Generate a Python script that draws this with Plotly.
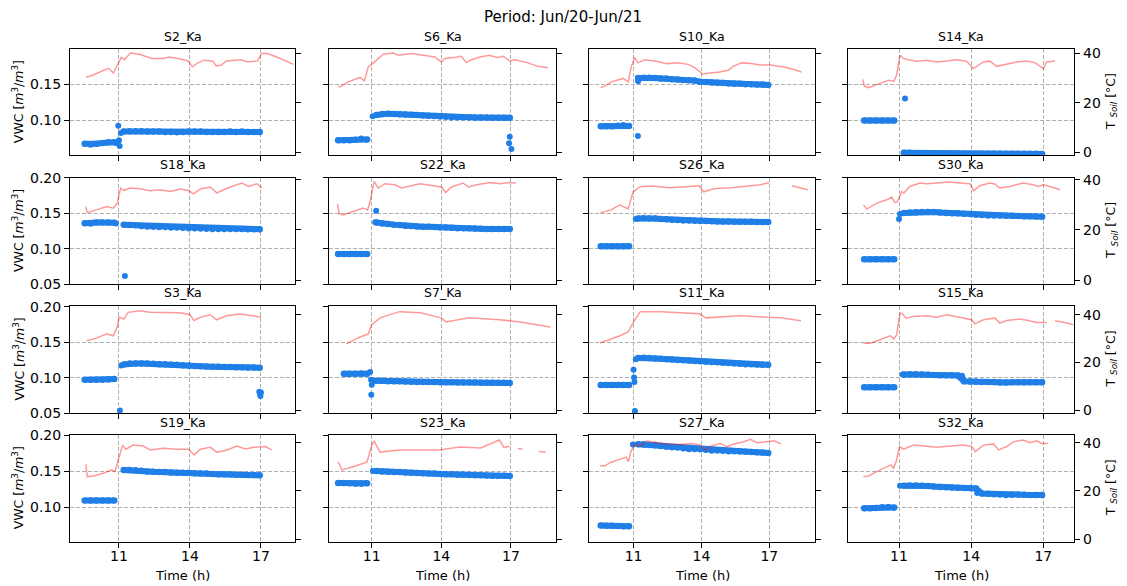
import plotly.graph_objects as go

# ---------------- data ----------------
SUPTITLE = "Period: Jun/20-Jun/21"
SENSORS = ["S2_Ka", "S6_Ka", "S10_Ka", "S14_Ka",
           "S18_Ka", "S22_Ka", "S26_Ka", "S30_Ka",
           "S3_Ka", "S7_Ka", "S11_Ka", "S15_Ka",
           "S19_Ka", "S23_Ka", "S27_Ka", "S32_Ka"]
X_TICKS = [11, 14, 17]
TEMP_TICKS = [0, 20, 40]

# sampling times (h) of the VWC readings before / after the 11 h event
T_PRE = [9.55, 9.8, 10.05, 10.3, 10.55, 10.8]
T_POST = [11.2, 11.45, 11.7, 11.95, 12.2, 12.45, 12.7, 12.95, 13.2, 13.45, 13.7, 13.95,
          14.2, 14.45, 14.7, 14.95, 15.2, 15.45, 15.7, 15.95, 16.2, 16.45, 16.7, 16.95]

S2_PRE = [0.067, 0.066, 0.067, 0.068, 0.069, 0.069]
S2_POST = [0.084, 0.0845, 0.0845, 0.0845, 0.084, 0.084, 0.084, 0.0835, 0.0835, 0.083, 0.0835, 0.084,
           0.084, 0.084, 0.0835, 0.0835, 0.0835, 0.0835, 0.084, 0.0835, 0.084, 0.0835, 0.0835, 0.0835]
S2_EXTRA_T = [10.88, 10.97, 11.0, 11.03, 11.08]
S2_EXTRA_V = [0.068, 0.092, 0.072, 0.064, 0.082]
S2_TEMP_T = [9.61, 9.77, 9.98, 10.33, 10.55, 10.76, 10.99, 11.1, 11.24, 11.48, 11.87, 12.23, 12.37, 12.86,
             13.14, 13.64, 13.92, 14.1, 14.34, 14.6, 14.97, 15.11, 15.32, 15.53, 15.8, 16.16, 16.44, 16.86,
             17.03, 17.28, 17.71, 18.06, 18.38]
S2_TEMP_V = [30.4, 30.7, 31.5, 32.9, 33.9, 32.0, 36.5, 38.3, 37.4, 40.1, 39.6, 38.5, 37.9, 37.9,
             38.5, 37.6, 36.9, 34.5, 36.1, 37.2, 36.8, 34.9, 35.1, 36.9, 37.2, 37.4, 36.5, 36.9,
             39.9, 39.9, 38.3, 36.9, 35.5]

S6_PRE = [0.072, 0.072, 0.072, 0.0725, 0.074, 0.073]
S6_POST = [0.107, 0.1085, 0.109, 0.1085, 0.108, 0.1078, 0.1075, 0.107, 0.1065, 0.106, 0.1056, 0.105,
           0.1045, 0.104, 0.104, 0.104, 0.1038, 0.1036, 0.1035, 0.1035, 0.1033, 0.1033, 0.1033, 0.1033]
S6_EXTRA_T = [11.04, 16.92, 16.95, 17.02]
S6_EXTRA_V = [0.1055, 0.0676, 0.0768, 0.0597]
S6_TEMP_T = [9.56, 9.63, 9.99, 10.49, 10.68, 10.85, 11.07, 11.28, 11.5, 11.93, 12.14, 12.72, 13.29, 13.72,
             14.0, 14.15, 14.58, 14.86, 15.08, 15.3, 15.66, 16.09, 16.38, 16.67, 16.95, 17.17, 17.74, 18.17, 18.6]
S6_TEMP_V = [26.8, 26.4, 28.4, 30.2, 28.8, 34.5, 36.1, 37.9, 39.6, 40.1, 39.2, 39.9, 39.2, 38.5,
             36.5, 37.9, 38.3, 38.8, 36.2, 37.4, 38.5, 39.2, 38.3, 38.8, 36.9, 37.4, 36.1, 34.7, 34.1]

S10_PRE = [0.0915, 0.0915, 0.0915, 0.092, 0.093, 0.0918]
S10_POST = [0.1585, 0.159, 0.159, 0.1585, 0.158, 0.1578, 0.157, 0.1565, 0.156, 0.1555, 0.155, 0.1535,
            0.153, 0.1525, 0.152, 0.1515, 0.151, 0.1505, 0.1505, 0.150, 0.150, 0.1495, 0.1495, 0.149]
S10_EXTRA_T = [11.19, 11.2]
S10_EXTRA_V = [0.0778, 0.1542]
S10_TEMP_T = [9.54, 9.73, 10.02, 10.54, 10.76, 10.9, 11.05, 11.2, 11.49, 12.01, 12.45, 12.97, 13.41,
              13.7, 14.07, 14.37, 14.81, 15.18, 15.4, 15.77, 16.21, 16.58, 17.02, 17.61, 18.05, 18.42]
S10_TEMP_V = [26.1, 26.7, 28.4, 29.8, 28.4, 34.5, 38.3, 36.1, 37.4, 36.8, 35.8, 36.2, 35.5,
              34.2, 31.5, 32.0, 32.4, 33.1, 34.7, 36.1, 35.8, 35.2, 35.2, 34.5, 33.5, 32.4]

S14_PRE = [0.0995, 0.0995, 0.0995, 0.0995, 0.0995, 0.0995]
S14_POST = [0.0545, 0.0545, 0.054, 0.054, 0.0538, 0.0535, 0.0535, 0.0535, 0.0535, 0.0535, 0.0533, 0.0533,
            0.0533, 0.053, 0.053, 0.053, 0.053, 0.053, 0.053, 0.053, 0.053, 0.053, 0.053, 0.0528]
S14_EXTRA_T = [11.25]
S14_EXTRA_V = [0.130]
S14_TEMP_T = [9.49, 9.56, 9.73, 10.15, 10.56, 10.79, 10.9, 11.04, 11.18, 11.39, 11.73, 12.15, 12.56, 12.98,
              13.4, 13.81, 14.09, 14.51, 14.78, 15.06, 15.48, 15.9, 16.31, 16.66, 17.0, 17.14, 17.49]
S14_TEMP_V = [29.4, 26.7, 26.1, 27.5, 29.1, 28.7, 31.1, 39.2, 37.9, 37.4, 36.8, 37.2, 36.5, 36.9,
              37.4, 36.8, 33.8, 36.5, 36.8, 34.7, 35.5, 36.5, 36.9, 36.1, 33.8, 36.5, 36.9]

S18_PRE = [0.136, 0.1355, 0.137, 0.137, 0.137, 0.1365]
S18_POST = [0.1338, 0.1335, 0.133, 0.132, 0.1315, 0.131, 0.1308, 0.1305, 0.130, 0.130, 0.1295, 0.129,
            0.1288, 0.1285, 0.1283, 0.128, 0.128, 0.128, 0.128, 0.128, 0.1278, 0.1275, 0.1275, 0.1275]
S18_EXTRA_T = [10.87, 11.25]
S18_EXTRA_V = [0.1355, 0.0613]
S18_TEMP_T = [9.59, 9.66, 9.91, 10.48, 10.76, 10.93, 11.07, 11.21, 11.47, 11.89, 12.31, 12.74, 13.16,
              13.59, 13.94, 14.15, 14.44, 14.86, 15.14, 15.42, 15.85, 16.2, 16.48, 16.83, 17.05]
S18_TEMP_V = [29.3, 26.9, 27.6, 29.3, 28.7, 30.7, 36.7, 35.7, 36.7, 36.4, 35.6, 36.0, 35.3,
              36.3, 35.7, 34.4, 36.3, 37.1, 34.7, 36.0, 37.6, 38.7, 37.3, 38.4, 36.7]

S22_PRE = [0.0925, 0.0925, 0.0925, 0.0925, 0.0925, 0.0925]
S22_POST = [0.137, 0.1355, 0.135, 0.134, 0.1335, 0.1325, 0.132, 0.1315, 0.131, 0.131, 0.1305, 0.130,
            0.1298, 0.1295, 0.129, 0.129, 0.1288, 0.1285, 0.1283, 0.128, 0.128, 0.128, 0.128, 0.128]
S22_EXTRA_T = [11.15, 11.19]
S22_EXTRA_V = [0.1375, 0.1537]
S22_TEMP_T = [9.52, 9.6, 9.77, 10.2, 10.63, 10.82, 10.95, 11.1, 11.28, 11.57, 12.0, 12.29, 12.65,
              13.08, 13.65, 14.01, 14.18, 14.44, 14.94, 15.16, 15.52, 16.1, 16.53, 16.89, 17.22]
S22_TEMP_V = [30.4, 26.4, 26.0, 27.3, 28.7, 28.0, 32.0, 39.3, 36.7, 38.4, 38.0, 36.7, 37.6,
              38.4, 37.6, 37.1, 34.9, 37.1, 38.7, 37.1, 38.0, 38.9, 38.4, 38.9, 38.7]

S26_PRE = [0.1035, 0.1035, 0.1035, 0.1035, 0.1035, 0.1035]
S26_POST = [0.1425, 0.143, 0.1428, 0.1425, 0.142, 0.1415, 0.141, 0.1405, 0.140, 0.140, 0.1395, 0.139,
            0.139, 0.1388, 0.1385, 0.1385, 0.1383, 0.138, 0.138, 0.138, 0.138, 0.1378, 0.1378, 0.1378]
S26_EXTRA_T = [11.1]
S26_EXTRA_V = [0.142]
S26_TEMP_T = [9.52, 10.0, 10.4, 10.76, 10.98, 11.29, 11.8, 12.6, 13.3, 13.9, 14.1, 14.6, 15.3, 16.0,
              16.6, 17.0, 17.3, 18.0, 18.7]
S26_TEMP_V = [26.8, 28.0, 30.0, 28.4, 35.2, 37.2, 37.5, 36.8, 37.2, 37.6, 35.2, 36.5, 36.8, 37.5,
              38.0, 38.8, None, 37.6, 36.0]

S30_PRE = [0.085, 0.085, 0.085, 0.085, 0.085, 0.085]
S30_POST = [0.1505, 0.151, 0.1515, 0.152, 0.152, 0.1518, 0.151, 0.1505, 0.150, 0.150, 0.1495, 0.149,
            0.148, 0.1475, 0.147, 0.147, 0.1468, 0.1465, 0.1465, 0.1462, 0.146, 0.146, 0.1455, 0.1452]
S30_EXTRA_T = [11.0, 11.04]
S30_EXTRA_V = [0.142, 0.149]
S30_TEMP_T = [9.52, 9.66, 10.07, 10.49, 10.7, 10.83, 10.93, 11.11, 11.2, 11.45, 11.87, 12.14, 12.56, 13.04,
              13.53, 13.94, 14.11, 14.36, 14.77, 14.98, 15.19, 15.61, 16.16, 16.58, 16.79, 17.0, 17.28, 17.7]
S30_TEMP_V = [30.0, 28.3, 30.7, 32.0, 33.1, 30.9, 31.3, 35.3, 34.7, 37.3, 38.7, 38.4, 38.7, 39.1,
              38.7, 38.4, 35.7, 37.6, 38.7, 38.3, 36.7, 37.3, 38.7, 38.0, 37.3, 38.0, 37.3, 36.0]

S3_PRE = [0.097, 0.097, 0.097, 0.097, 0.0975, 0.098]
S3_POST = [0.1185, 0.1198, 0.120, 0.120, 0.1198, 0.1195, 0.119, 0.119, 0.1185, 0.118, 0.1175, 0.117,
           0.1165, 0.116, 0.1158, 0.1155, 0.1152, 0.115, 0.1148, 0.1145, 0.1145, 0.1143, 0.1142, 0.114]
S3_EXTRA_T = [11.04, 11.1, 16.93, 16.96, 16.98, 17.0]
S3_EXTRA_V = [0.0537, 0.117, 0.080, 0.077, 0.074, 0.079]
S3_TEMP_T = [9.63, 10.05, 10.48, 10.76, 10.93, 11.01, 11.21, 11.39, 11.89, 12.31, 13.02, 13.65, 14.0,
             14.17, 14.42, 14.85, 15.13, 15.55, 16.11, 16.54, 17.03]
S3_TEMP_V = [29.1, 30.2, 32.0, 31.2, 35.1, 39.0, 38.2, 41.0, 41.7, 41.1, 41.0, 40.7, 40.0,
             37.6, 38.9, 40.0, 37.9, 39.6, 40.3, 39.6, 39.0]

S7_PRE = [None, 0.1053, 0.1055, 0.1055, 0.1057, 0.1053]
S7_POST = [0.0955, 0.0955, 0.095, 0.095, 0.0948, 0.0945, 0.0943, 0.094, 0.094, 0.0938, 0.0937, 0.0935,
           0.0935, 0.0933, 0.0932, 0.093, 0.093, 0.093, 0.0928, 0.0928, 0.0927, 0.0927, 0.0927, 0.0925]
S7_EXTRA_T = [9.87, 10.93, 10.97, 11.0, 10.98, 11.1]
S7_EXTRA_V = [0.105, 0.108, 0.097, 0.090, 0.076, 0.0955]
S7_TEMP_T = [9.9, 10.5, 10.85, 11.0, 11.36, 12.2, 13.1, 14.0, 14.2, 15.2, 16.5, 17.4, 18.7]
S7_TEMP_V = [27.8, 30.7, 32.0, 35.8, 38.7, 41.3, 40.8, 38.7, 37.0, 38.7, 37.9, 37.0, 34.9]

S11_PRE = [0.0895, 0.0895, 0.0895, 0.0895, 0.0895, 0.0895]
S11_POST = [0.1275, 0.128, 0.1275, 0.127, 0.1265, 0.126, 0.1255, 0.125, 0.1245, 0.124, 0.1235, 0.123,
            0.1225, 0.122, 0.1215, 0.121, 0.1205, 0.120, 0.1195, 0.119, 0.1188, 0.1185, 0.1183, 0.118]
S11_EXTRA_T = [11.0, 11.02, 11.04, 11.06, 11.1]
S11_EXTRA_V = [0.111, 0.100, 0.094, 0.053, 0.126]
S11_TEMP_T = [9.52, 10.4, 10.76, 11.0, 11.3, 12.2, 13.9, 14.2, 15.7, 17.5, 18.4]
S11_TEMP_V = [28.2, 31.2, 32.8, 37.0, 41.3, 41.3, 40.4, 38.7, 39.6, 38.7, 37.5]

S15_PRE = [0.0866, 0.0866, 0.0866, 0.0866, 0.0866, 0.0866]
S15_POST = [0.1045, 0.1048, 0.1047, 0.1045, 0.104, 0.1038, 0.1035, 0.1035, 0.1033, 0.103, 0.095, 0.0945,
            0.0943, 0.094, 0.094, 0.0937, 0.093, 0.093, 0.0933, 0.0935, 0.0935, 0.0935, 0.0935, 0.0935]
S15_EXTRA_T = [11.15, 13.62, 13.67]
S15_EXTRA_V = [0.1045, 0.1025, 0.098]
S15_TEMP_T = [9.52, 9.8, 10.21, 10.63, 10.79, 10.9, 11.04, 11.15, 11.29, 11.6, 12.15, 12.56, 12.98, 13.53,
              14.02, 14.15, 14.51, 14.99, 15.19, 15.48, 16.03, 16.37, 16.72, 17.14, 17.3, 17.49, 17.83, 18.25]
S15_TEMP_V = [28.1, 28.1, 29.5, 31.2, 29.9, 31.6, 40.7, 40.4, 38.6, 39.3, 39.6, 39.0, 40.0, 39.0,
              37.9, 36.2, 37.9, 38.6, 36.5, 37.6, 38.2, 37.6, 36.8, 36.8, None, 37.5, 36.9, 35.8]

S19_PRE = [0.1096, 0.1096, 0.1096, 0.1096, 0.1096, 0.1096]
S19_POST = [0.152, 0.152, 0.1515, 0.151, 0.150, 0.1495, 0.149, 0.149, 0.1485, 0.148, 0.148, 0.148,
            0.1475, 0.147, 0.147, 0.1465, 0.1462, 0.146, 0.146, 0.1455, 0.1455, 0.145, 0.145, 0.1445]
S19_EXTRA_T = []
S19_EXTRA_V = []
S19_TEMP_T = [9.6, 9.66, 9.91, 10.34, 10.69, 10.83, 11.01, 11.15, 11.29, 11.6, 12.03, 12.31, 12.88,
              13.44, 13.94, 14.18, 14.44, 14.86, 15.14, 15.56, 15.99, 16.34, 16.69, 17.18, 17.46]
S19_TEMP_V = [31.0, 25.9, 26.2, 27.3, 28.7, 28.0, 34.2, 39.0, 37.3, 39.0, 38.6, 37.0, 37.7,
              37.3, 37.3, 34.9, 37.3, 38.1, 36.0, 37.0, 38.6, 37.4, 38.1, 38.4, 37.0]

S23_PRE = [0.134, 0.1338, 0.1335, 0.133, 0.1328, 0.1335]
S23_POST = [0.1505, 0.150, 0.1495, 0.149, 0.149, 0.1485, 0.148, 0.1478, 0.1475, 0.147, 0.147, 0.1465,
            0.146, 0.146, 0.1455, 0.1452, 0.145, 0.1448, 0.1445, 0.1443, 0.144, 0.144, 0.1438, 0.1435]
S23_EXTRA_T = [11.05]
S23_EXTRA_V = [0.1505]
S23_TEMP_T = [9.55, 9.72, 10.3, 10.8, 11.0, 11.1, 11.36, 12.2, 13.9, 14.8, 15.7, 16.5, 16.7, 16.95,
              17.1, 17.3, 17.5, 18.0, 18.2, 18.5, 18.65]
S23_TEMP_V = [32.0, 28.7, 30.3, 32.0, 39.0, 40.7, 36.1, 37.0, 37.0, 38.2, 37.8, 41.1, 38.0, 38.5,
              None, 37.6, 37.4, None, 36.4, 36.1, None]

S27_PRE = [0.0752, 0.075, 0.0748, 0.0745, 0.0742, 0.074]
S27_POST = [0.1875, 0.187, 0.1865, 0.186, 0.185, 0.184, 0.1835, 0.183, 0.182, 0.181, 0.1808, 0.1805,
            0.1798, 0.179, 0.1788, 0.1785, 0.178, 0.178, 0.1775, 0.177, 0.1768, 0.1765, 0.176, 0.1755]
S27_EXTRA_T = [10.97]
S27_EXTRA_V = [0.187]
S27_TEMP_T = [9.52, 9.74, 9.96, 10.41, 10.67, 10.77, 10.88, 11.07, 11.29, 11.59, 12.03, 12.47, 13.06,
              13.58, 13.95, 14.17, 14.39, 14.84, 15.13, 15.43, 15.87, 16.16, 16.46, 16.9, 17.2, 17.52]
S27_TEMP_V = [30.4, 30.4, 31.7, 33.1, 34.0, 32.1, 36.3, 39.5, 38.6, 40.7, 40.0, 39.5, 39.3,
              39.7, 39.0, 37.0, 38.6, 39.7, 38.3, 39.5, 40.4, 41.4, 40.0, 40.4, 40.8, 39.5]

S32_PRE = [0.0992, 0.0992, 0.0995, 0.1003, 0.1006, 0.1000]
S32_POST = [0.1303, 0.1305, 0.1305, 0.130, 0.1298, 0.129, 0.1285, 0.128, 0.1278, 0.1275, 0.1272, 0.127,
            0.1265, 0.1195, 0.119, 0.1185, 0.118, 0.1175, 0.1178, 0.118, 0.1178, 0.1175, 0.1175, 0.1175]
S32_EXTRA_T = [11.04, 14.25]
S32_EXTRA_V = [0.130, 0.120]
S32_TEMP_T = [9.52, 9.73, 10.07, 10.49, 10.66, 10.77, 10.88, 11.02, 11.19, 11.6, 12.16, 12.57, 13.13,
              13.68, 14.03, 14.17, 14.51, 14.93, 15.14, 15.48, 15.76, 16.17, 16.45, 16.73, 16.93, 17.2]
S32_TEMP_V = [25.9, 26.2, 28.0, 29.8, 30.8, 29.4, 32.1, 38.4, 37.3, 39.0, 38.6, 38.1, 38.6,
              39.0, 38.4, 36.3, 39.0, 39.5, 37.0, 38.4, 40.4, 41.1, 40.0, 40.8, 39.7, 39.7]

DATA = {
    "S2_Ka": (S2_PRE, S2_POST, S2_EXTRA_T, S2_EXTRA_V, S2_TEMP_T, S2_TEMP_V),
    "S6_Ka": (S6_PRE, S6_POST, S6_EXTRA_T, S6_EXTRA_V, S6_TEMP_T, S6_TEMP_V),
    "S10_Ka": (S10_PRE, S10_POST, S10_EXTRA_T, S10_EXTRA_V, S10_TEMP_T, S10_TEMP_V),
    "S14_Ka": (S14_PRE, S14_POST, S14_EXTRA_T, S14_EXTRA_V, S14_TEMP_T, S14_TEMP_V),
    "S18_Ka": (S18_PRE, S18_POST, S18_EXTRA_T, S18_EXTRA_V, S18_TEMP_T, S18_TEMP_V),
    "S22_Ka": (S22_PRE, S22_POST, S22_EXTRA_T, S22_EXTRA_V, S22_TEMP_T, S22_TEMP_V),
    "S26_Ka": (S26_PRE, S26_POST, S26_EXTRA_T, S26_EXTRA_V, S26_TEMP_T, S26_TEMP_V),
    "S30_Ka": (S30_PRE, S30_POST, S30_EXTRA_T, S30_EXTRA_V, S30_TEMP_T, S30_TEMP_V),
    "S3_Ka": (S3_PRE, S3_POST, S3_EXTRA_T, S3_EXTRA_V, S3_TEMP_T, S3_TEMP_V),
    "S7_Ka": (S7_PRE, S7_POST, S7_EXTRA_T, S7_EXTRA_V, S7_TEMP_T, S7_TEMP_V),
    "S11_Ka": (S11_PRE, S11_POST, S11_EXTRA_T, S11_EXTRA_V, S11_TEMP_T, S11_TEMP_V),
    "S15_Ka": (S15_PRE, S15_POST, S15_EXTRA_T, S15_EXTRA_V, S15_TEMP_T, S15_TEMP_V),
    "S19_Ka": (S19_PRE, S19_POST, S19_EXTRA_T, S19_EXTRA_V, S19_TEMP_T, S19_TEMP_V),
    "S23_Ka": (S23_PRE, S23_POST, S23_EXTRA_T, S23_EXTRA_V, S23_TEMP_T, S23_TEMP_V),
    "S27_Ka": (S27_PRE, S27_POST, S27_EXTRA_T, S27_EXTRA_V, S27_TEMP_T, S27_TEMP_V),
    "S32_Ka": (S32_PRE, S32_POST, S32_EXTRA_T, S32_EXTRA_V, S32_TEMP_T, S32_TEMP_V),
}

# ---------------- layout config ----------------
W, H = 1127, 586
COL_PX = [(70, 295), (329.3, 555.7), (589, 815), (848.3, 1074.3)]
ROW_PX = [(49.3, 155), (177.7, 284.3), (305.7, 413.3), (435, 541.7)]
X_RANGES = [[8.93, 18.44], [9.17, 18.93], [9.03, 19.02], [8.89, 18.29]]
VWC_RANGES = [[0.0514, 0.1986], [0.0497, 0.2003], [0.0497, 0.2014], [0.0528, 0.2003]]
VWC_TICKS = [[0.10, 0.15], [0.05, 0.10, 0.15, 0.20], [0.05, 0.10, 0.15, 0.20], [0.10, 0.15, 0.20]]
TEMP_RANGES = [[-1.2, 41.6], [-1.6, 40.8], [-1.3, 43.8], [-1.1, 43.2]]

BLUE = "#1f7fe6"
RED = "rgba(255,0,0,0.4)"
GRID = "#b0b0b0"
FONT = "DejaVu Sans"

fig = go.Figure()
layout = dict(width=W, height=H, margin=dict(l=0, r=0, t=0, b=0, pad=0, autoexpand=False),
              paper_bgcolor="white", plot_bgcolor="white", showlegend=False,
              font=dict(family=FONT, size=13, color="black"))
annotations = []

for i, name in enumerate(SENSORS):
    r, c = divmod(i, 4)
    pre, post, ext_t, ext_v, tt, tv = DATA[name]
    xid = "x" if i == 0 else f"x{i + 1}"
    yid = "y" if i == 0 else f"y{i + 1}"
    y2id = f"y{i + 17}"

    # dense VWC readings: markers joined by a band of the same width
    fig.add_trace(go.Scatter(x=T_PRE + [None] + T_POST, y=pre + [None] + post, mode="lines+markers",
                             line=dict(color=BLUE, width=6), connectgaps=False,
                             marker=dict(color=BLUE, size=6.5, line=dict(width=0)),
                             xaxis=xid, yaxis=yid, hoverinfo="skip"))
    fig.add_trace(go.Scatter(x=ext_t, y=ext_v, mode="markers",
                             marker=dict(color=BLUE, size=6, line=dict(width=0)),
                             xaxis=xid, yaxis=yid, hoverinfo="skip"))
    fig.add_trace(go.Scatter(x=tt, y=tv, mode="lines", line=dict(color=RED, width=1.5),
                             connectgaps=False, xaxis=xid, yaxis=y2id, hoverinfo="skip"))

    x0, x1 = COL_PX[c]
    t0, t1 = ROW_PX[r]
    common = dict(ticks="outside", ticklen=5, tickwidth=1, tickcolor="black", automargin=False,
                  zeroline=False, tickfont=dict(family=FONT, size=14, color="black"))
    layout["xaxis" if i == 0 else f"xaxis{i + 1}"] = dict(
        domain=[x0 / W, x1 / W], range=X_RANGES[c], anchor=yid,
        tickmode="array", tickvals=X_TICKS, ticktext=[str(v) for v in X_TICKS],
        showticklabels=(r == 3), ticklabelstandoff=-4,
        showline=True, linecolor="black", linewidth=1, mirror=True,
        showgrid=True, gridcolor=GRID, gridwidth=0.8, griddash="4px,2px", **common)
    layout["yaxis" if i == 0 else f"yaxis{i + 1}"] = dict(
        domain=[1 - t1 / H, 1 - t0 / H], range=VWC_RANGES[r], anchor=xid,
        tickmode="array", tickvals=VWC_TICKS[r], ticktext=[f"{v:.2f}" for v in VWC_TICKS[r]],
        showticklabels=(c == 0), showline=True, linecolor="black", linewidth=1, mirror=True,
        showgrid=True, gridcolor=GRID, gridwidth=0.8, griddash="4px,2px", **common)
    layout[f"yaxis{i + 17}"] = dict(
        overlaying=yid, side="right", anchor=xid, range=TEMP_RANGES[r],
        tickmode="array", tickvals=TEMP_TICKS, ticktext=[str(v) for v in TEMP_TICKS],
        showticklabels=(c == 3), showline=False, showgrid=False, **common)

    annotations.append(dict(text=name, xref="paper", yref="paper", x=(x0 + x1) / 2 / W,
                            y=1 - (t0 - 13) / H, xanchor="center", yanchor="middle",
                            showarrow=False, font=dict(family=FONT, size=12.5, color="black")))
    if c == 0:
        annotations.append(dict(text="VWC [<i>m</i><sup>3</sup>/<i>m</i><sup>3</sup>]",
                                xref="paper", yref="paper", x=18 / W, y=1 - (t0 + t1) / 2 / H,
                                xanchor="center", yanchor="middle", textangle=-90, showarrow=False,
                                font=dict(family=FONT, size=12.5, color="black")))
    if c == 3:
        annotations.append(dict(text="T <sub><i>Soil</i></sub> [°C]",
                                xref="paper", yref="paper", x=1111 / W, y=1 - (t0 + t1) / 2 / H,
                                xanchor="center", yanchor="middle", textangle=-90, showarrow=False,
                                font=dict(family=FONT, size=12.5, color="black")))
    if r == 3:
        annotations.append(dict(text="Time (h)", xref="paper", yref="paper", x=(x0 + x1) / 2 / W,
                                y=1 - 575 / H, xanchor="center", yanchor="middle", showarrow=False,
                                font=dict(family=FONT, size=13, color="black")))

annotations.append(dict(text=SUPTITLE, xref="paper", yref="paper", x=563 / W, y=1 - 17 / H,
                        xanchor="center", yanchor="middle", showarrow=False,
                        font=dict(family=FONT, size=15, color="black")))
layout["annotations"] = annotations
fig.update_layout(**layout)
fig.write_html("out.html", config={"displayModeBar": False}, post_script=(
    "document.body.style.margin='0';document.body.style.padding='0';"
    "var d=document.getElementById('{plot_id}');d.style.position='absolute';"
    "d.style.left='0px';d.style.top='0px';"))
